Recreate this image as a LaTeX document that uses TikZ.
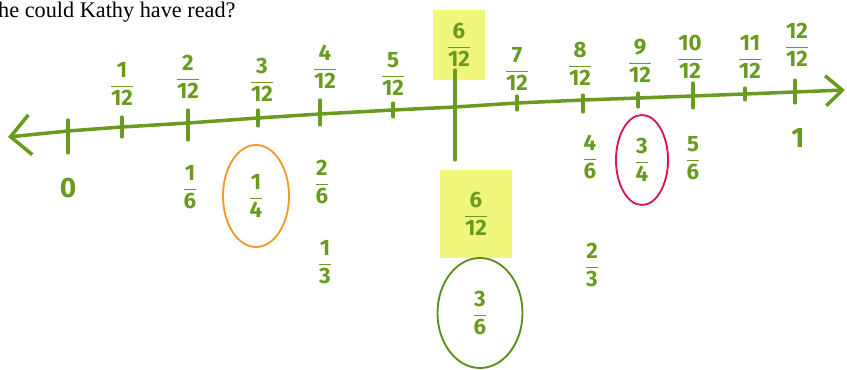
\documentclass[tikz,border=0pt]{standalone}
\usepackage{amsmath}
\usepackage{fontspec}
\setmainfont{Liberation Serif}
\newfontfamily\handfont{Fira Sans}
\usetikzlibrary{arrows.meta,shapes.geometric}
\definecolor{mgreen}{HTML}{6A9A1F}
\definecolor{dgreen}{HTML}{5E8E1A}
\definecolor{hilite}{HTML}{F1F77C}
\definecolor{morange}{HTML}{F29A2E}
\definecolor{mred}{HTML}{D61A4E}
\newcommand{\fr}[2]{$\dfrac{\mbox{#1}}{\mbox{#2}}$}

\begin{document}
\begin{tikzpicture}[
      x=0.3mm, y=-0.3mm,
      lbl/.style  = {text=mgreen, font=\handfont\bfseries\fontsize{19}{20}\selectfont, inner sep=1pt},
      big/.style  = {lbl, font=\handfont\bfseries\fontsize{24}{24}\selectfont},
      tickmk/.style = {draw=mgreen, line width=2.6pt, line cap=round},
      axis/.style = {draw=mgreen, line width=3pt, line cap=round, line join=round,
                     {Straight Barb[length=6mm,width=12mm]}-{Straight Barb[length=5mm,width=9mm]}},
      ring/.style = {ellipse, draw, line width=1.6pt, inner sep=0pt},
      hl/.style   = {fill=hilite, inner sep=0pt},
    ]
    \fill[white] (0,0) rectangle (847,370);
    \useasboundingbox (0,0) rectangle (847,370);

    % ---- question ----
    \node[anchor=base west, inner sep=0pt, font=\fontsize{19}{20}\selectfont] (head) at (-2,18) {he could Kathy have read?};

    % ---- highlighted halves ----
    \node[lbl, hl, minimum width=15.6mm, minimum height=21mm] (u6) at (459,45) {\fr{6}{12}};
    \node[lbl, hl, minimum width=21.6mm, minimum height=26.4mm] (d6) at (476,214) {\fr{6}{12}};

    % ---- number line ----
    \coordinate (la) at (8,137);
    \coordinate (ra) at (845,90);
    \foreach \i/\x/\y in {0/68/131, 1/122/127, 2/188/123, 3/258/118, 4/320/114,
                          5/393/110, 6/455/107, 7/517/103, 8/583/100, 9/638/98,
                          10/693/96, 11/745/94, 12/795/92}
      \coordinate (t\i) at (\x,\y);
    \draw[axis] (la) \foreach \i in {0,...,12} {-- (t\i)} -- (ra);

    \foreach \i/\u/\d in {0/11/22, 1/10/10, 2/13/17, 3/8/8, 4/14/11, 5/7/7, 6/37/53,
                          7/7/7, 8/5/12, 9/5/9, 10/13/12, 11/6/6, 12/12/11}
      \draw[tickmk] (t\i) +(0,-\u) -- +(0,\d);

    % ---- twelfths above ----
    \foreach \i/\x/\y in {1/122/84, 2/188/77, 3/262/80, 4/325/67, 5/393/74, 7/517/69,
                          8/580/64, 9/640/61, 10/690/57, 11/750/57, 12/797/45}
      \node[lbl] (u\i) at (\x,\y) {\fr{\i}{12}};

    % ---- equivalents below ----
    \node[big] (zero) at (68,188) {0};
    \node[lbl] (s1)   at (190,187) {\fr{1}{6}};
    \node[lbl] (s2)   at (322,182) {\fr{2}{6}};
    \node[lbl] (th1)  at (325,262) {\fr{1}{3}};
    \node[lbl] (s4)   at (590,157) {\fr{4}{6}};
    \node[lbl] (s5)   at (693,158) {\fr{5}{6}};
    \node[lbl] (th2)  at (592,265) {\fr{2}{3}};
    \node[big] (one)  at (798,138) {1};

    % circled ones
    \node[lbl, ring, draw=morange, minimum width=19.8mm, minimum height=30.6mm] (q1) at (256,196) {\fr{1}{4}};
    \node[lbl, ring, draw=mred, minimum width=15.6mm, minimum height=27mm] (q3) at (642,160) {\fr{3}{4}};
    \node[lbl, ring, draw=dgreen, minimum width=25.5mm, minimum height=33mm] (h3) at (480,313) {\fr{3}{6}};
\end{tikzpicture}
\end{document}
